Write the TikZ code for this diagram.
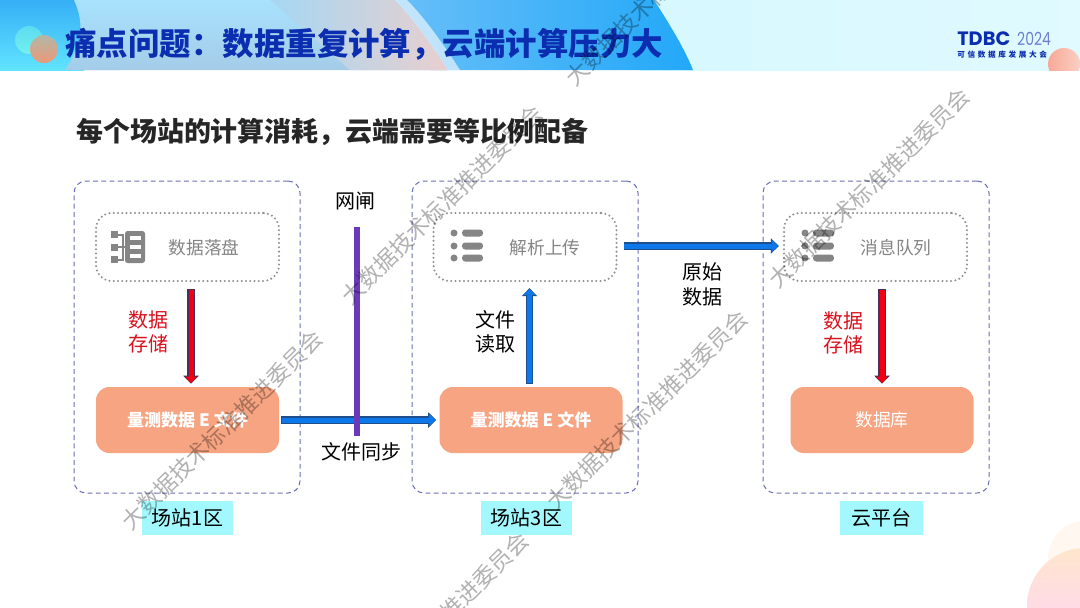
\documentclass[tikz,border=0pt]{standalone}
\usepackage{fontspec}
\setmainfont{Noto Sans CJK SC}
\newfontfamily\logofont{Poppins}
\usetikzlibrary{arrows.meta,calc,shadings}
\definecolor{titleblue}{HTML}{0B2DB0}
\definecolor{subblack}{HTML}{262626}
\definecolor{zoneline}{HTML}{6A70B8}
\definecolor{iconGray}{HTML}{858585}
\definecolor{orangebox}{HTML}{F6A482}
\definecolor{cyanlabel}{HTML}{A2F8FC}
\definecolor{redtext}{HTML}{D8121E}
\definecolor{arrowblue}{HTML}{0C78EA}
\definecolor{arrowedge}{HTML}{1F4E8C}
\definecolor{arrowred}{HTML}{F00010}
\definecolor{redarrowedge}{HTML}{4A3060}
\definecolor{gatepurple}{HTML}{6A3AB8}
\definecolor{hdA}{HTML}{A8E2FD}
\definecolor{hdB}{HTML}{A4CCE8}
\definecolor{hdC}{HTML}{E8CFCF}
\definecolor{hdD}{HTML}{6CC0F8}
\definecolor{hdE}{HTML}{22A8F8}
\definecolor{hdF}{HTML}{D6F8FF}
\definecolor{hdG}{HTML}{E0FAFF}
\definecolor{hdH}{HTML}{1E90F0}
\definecolor{hdI}{HTML}{60E4FF}
\definecolor{ballA}{HTML}{5CDCF0}
\definecolor{ballB}{HTML}{72F0F0}
\definecolor{ballC}{HTML}{B0B8A8}
\definecolor{ballD}{HTML}{EC9878}
\definecolor{ballE}{HTML}{F9A896}
\definecolor{ballF}{HTML}{F9D0C4}
\newcommand{\fwcolon}{\char"FF1A\relax}
\newcommand{\fwcomma}{\char"FF0C\relax}
\newcommand{\blockarrow}[4]{%
  \draw[draw=#2,line width=7.4*0.75pt,-{Triangle[length=8*0.75pt,width=15*0.75pt]}] #3 -- #4;
  \draw[draw=#1,line width=5*0.75pt,-{Triangle[length=6.4*0.75pt,width=11.5*0.75pt]},shorten <=0.6pt,shorten >=0.5pt] #3 -- #4;
}
\tikzset{
  zone/.style={draw=zoneline,line width=0.75pt,dash pattern=on 3.6pt off 2.6pt,rounded corners=9pt,minimum width=226*0.75pt,minimum height=312*0.75pt,inner sep=0pt},
  stepgroup/.style={draw=iconGray!90,line width=1.7pt,dash pattern=on 0pt off 3.2pt,line cap=round,rounded corners=12pt,minimum width=183*0.75pt,minimum height=68*0.75pt,inner sep=0pt},
  steptext/.style={text=iconGray,font=\fontsize{13.3}{15}\selectfont},
  filebox/.style={fill=orangebox,rounded corners=10pt,minimum width=183*0.75pt,minimum height=66*0.75pt,inner sep=0pt,text=white,font=\bfseries\fontsize{12.8}{15}\selectfont},
  zonelabel/.style={fill=cyanlabel,minimum height=34*0.75pt,inner sep=0pt,font=\fontsize{15}{18}\selectfont,text=black},
  plain/.style={font=\fontsize{15}{18.5}\selectfont,align=center,text=black,inner sep=0pt},
  redlabel/.style={plain,text=redtext},
  wmark/.style={text=black,text opacity=.3,font=\fontsize{17}{20}\selectfont,rotate=44.5,inner sep=0pt},
  icon/.style={fill=iconGray,draw=none}
}
\begin{document}
\begin{tikzpicture}[x=0.75pt,y=-0.75pt]
\useasboundingbox (0,0) rectangle (1080,607);
\begin{scope}
\clip (0,0) rectangle (1080,607);
\fill[white] (0,0) rectangle (1080,607);
% header band
\begin{scope}
\clip (0,0) rectangle (1080,70);
\shade[left color=hdF,right color=hdG] (640,0) rectangle (1080,70);
% right blue sweep
\shade[left color=hdD,right color=hdE] (380,0) -- (654,0) .. controls (672,28) and (685,50) .. (693,70) -- (430,70) -- cycle;
% pale central sweep
\shade[top color=hdA,bottom color=hdB] (60,0) -- (395,0) .. controls (415,20) and (435,50) .. (448,70) -- (60,70) -- cycle;
\shade[left color=hdA!50!hdB,right color=hdC] (270,0) -- (395,0) .. controls (415,20) and (435,50) .. (448,70) -- (350,70) -- cycle;
\fill[white,opacity=.6] (395,0) -- (407,0) .. controls (427,20) and (447,50) .. (460,70) -- (448,70) .. controls (435,50) and (415,20) .. (395,0) -- cycle;
% left disc
\shade[top color=hdH,bottom color=hdI] (0,-40) rectangle (84,70);
\shade[top color=hdA,bottom color=hdB] (74,0) .. controls (82,18) and (86,38) .. (65,70) -- (120,70) -- (120,0) -- cycle;
\end{scope}
\shade[top color=ballA,bottom color=ballB] (29,40) circle [radius=14];
\shade[top color=ballC,bottom color=ballD] (44,49) circle [radius=14];
% logo ball
\begin{scope}
\clip (0,0) rectangle (1080,70);
\shade[left color=ballE,right color=ballF] (1064,64) circle [radius=16];
\end{scope}
% bottom-right discs
\fill[orange!6] (1085,558) circle [radius=37];
\shade[top color=orange!20,bottom color=magenta!18] (1085,606) circle [radius=58];
% titles
\node[anchor=west,inner sep=0pt,text=titleblue,font=\bfseries\fontsize{23.6}{26}\selectfont] (title) at (65,44) {痛点问题\fwcolon 数据重复计算\fwcomma 云端计算压力大};
\node[anchor=west,inner sep=0pt,text=subblack,font=\bfseries\fontsize{20.2}{24}\selectfont] (subtitle) at (76,132) {每个场站的计算消耗\fwcomma 云端需要等比例配备};
\node[anchor=west,inner sep=0pt,text=titleblue,font=\logofont\bfseries\fontsize{14.5}{15}\selectfont] (logoa) at (957,39) {TDBC};
\node[anchor=west,inner sep=0pt,xscale=.78,text=titleblue!60!white,font=\logofont\fontsize{13.5}{15}\selectfont] (logob) at (1017,39) {2024};
\node[anchor=west,inner sep=0pt,text=titleblue,font=\bfseries\fontsize{5.7}{7}\selectfont\addfontfeature{LetterSpace=35}] (logoc) at (957,55) {可信数据库发展大会};
% zones
\node[zone] (zone1) at (187,337) {};
\node[zone] (zone2) at (525,337) {};
\node[zone] (zone3) at (876,337) {};
% step groups
\node[stepgroup] (disk) at (187.5,247) {};
\node[stepgroup] (parse) at (525,247) {};
\node[stepgroup] (queue) at (875.5,247) {};
\node[steptext] (disktext) at (204,248) {数据落盘};
\node[steptext] (parsetext) at (545,248) {解析上传};
\node[steptext] (queuetext) at (896,248) {消息队列};
% disk icon
\fill[icon,rounded corners=2pt] (125,231) rectangle (145,263);
\fill[white] (130,236) rectangle (141,240);
\fill[white] (130,245) rectangle (141,249);
\fill[white] (130,254) rectangle (141,258);
\fill[icon] (111,231) rectangle (118,238);
\fill[icon] (111,243.5) rectangle (118,250.5);
\fill[icon] (111,256) rectangle (118,263);
\fill[icon] (118,233.5) rectangle (123,235.5);
\fill[icon] (118,246) rectangle (125,248);
\fill[icon] (118,258.5) rectangle (123,260.5);
\fill[icon] (121.5,233.5) rectangle (123.5,260.5);
% list icons
\foreach \ox in {454,805}{
  \foreach \oy in {233,246,258}{
    \fill[icon] (\ox,\oy) circle [radius=3.5];
    \fill[icon,rounded corners=2.4pt] (\ox+8,\oy-3.5) rectangle (\ox+29,\oy+3.5);
  }
}
% file boxes
\node[filebox] (file1) at (187.5,420) {量测数据 E 文件};
\node[filebox] (file2) at (531,420) {量测数据 E 文件};
\node[filebox,font=\fontsize{13.3}{15}\selectfont] (dbase) at (882,420) {数据库};
% labels
\node[plain] (gate) at (355,201) {网闸};
\node[plain] (sync) at (361,452) {文件同步};
\node[redlabel] (store1) at (148,332) {数据\\存储};
\node[redlabel] (store2) at (843,333) {数据\\存储};
\node[plain] (read) at (495,332) {文件\\读取};
\node[plain] (raw) at (702,284.5) {原始\\数据};
\node[zonelabel,minimum width=91*0.75pt] (lab1) at (187.5,518) {场站1区};
\node[zonelabel,minimum width=91*0.75pt] (lab2) at (526.5,518) {场站3区};
\node[zonelabel,minimum width=83*0.75pt] (lab3) at (881.5,518) {云平台};
% connectors
\blockarrow{arrowred}{redarrowedge}{([xshift=3.5*0.75pt,yshift=-7*0.75pt]disk.south)}{([xshift=3.5*0.75pt,yshift=3*0.75pt]file1.north)}
\blockarrow{arrowred}{redarrowedge}{([xshift=6.5*0.75pt,yshift=-7*0.75pt]queue.south)}{([yshift=3*0.75pt]dbase.north)}
\blockarrow{arrowblue}{arrowedge}{([xshift=-1.5*0.75pt,yshift=3*0.75pt]file2.north)}{([xshift=4.5*0.75pt,yshift=-6*0.75pt]parse.south)}
\blockarrow{arrowblue}{arrowedge}{([xshift=2*0.75pt]file1.east)}{([xshift=-3*0.75pt]file2.west)}
\blockarrow{arrowblue}{arrowedge}{([xshift=6*0.75pt,yshift=1*0.75pt]parse.east)}{([xshift=-4*0.75pt,yshift=1*0.75pt]queue.west)}
% gate line
\coordinate (gatetop) at (357,227);
\coordinate (gatebot) at (357,436);
\draw[gatepurple,line width=6*0.75pt] (gatetop) -- (gatebot);
% watermarks
\node[wmark] (w1) at (222,430) {大数据技术标准推进委员会};
\node[wmark] (w2) at (442,205) {大数据技术标准推进委员会};
\node[wmark] (w3) at (666,-14) {大数据技术标准推进委员会};
\node[wmark] (w4) at (869,188) {大数据技术标准推进委员会};
\node[wmark] (w5) at (647,410) {大数据技术标准推进委员会};
\node[wmark] (w6) at (428,632) {大数据技术标准推进委员会};
\end{scope}
\end{tikzpicture}
\end{document}
